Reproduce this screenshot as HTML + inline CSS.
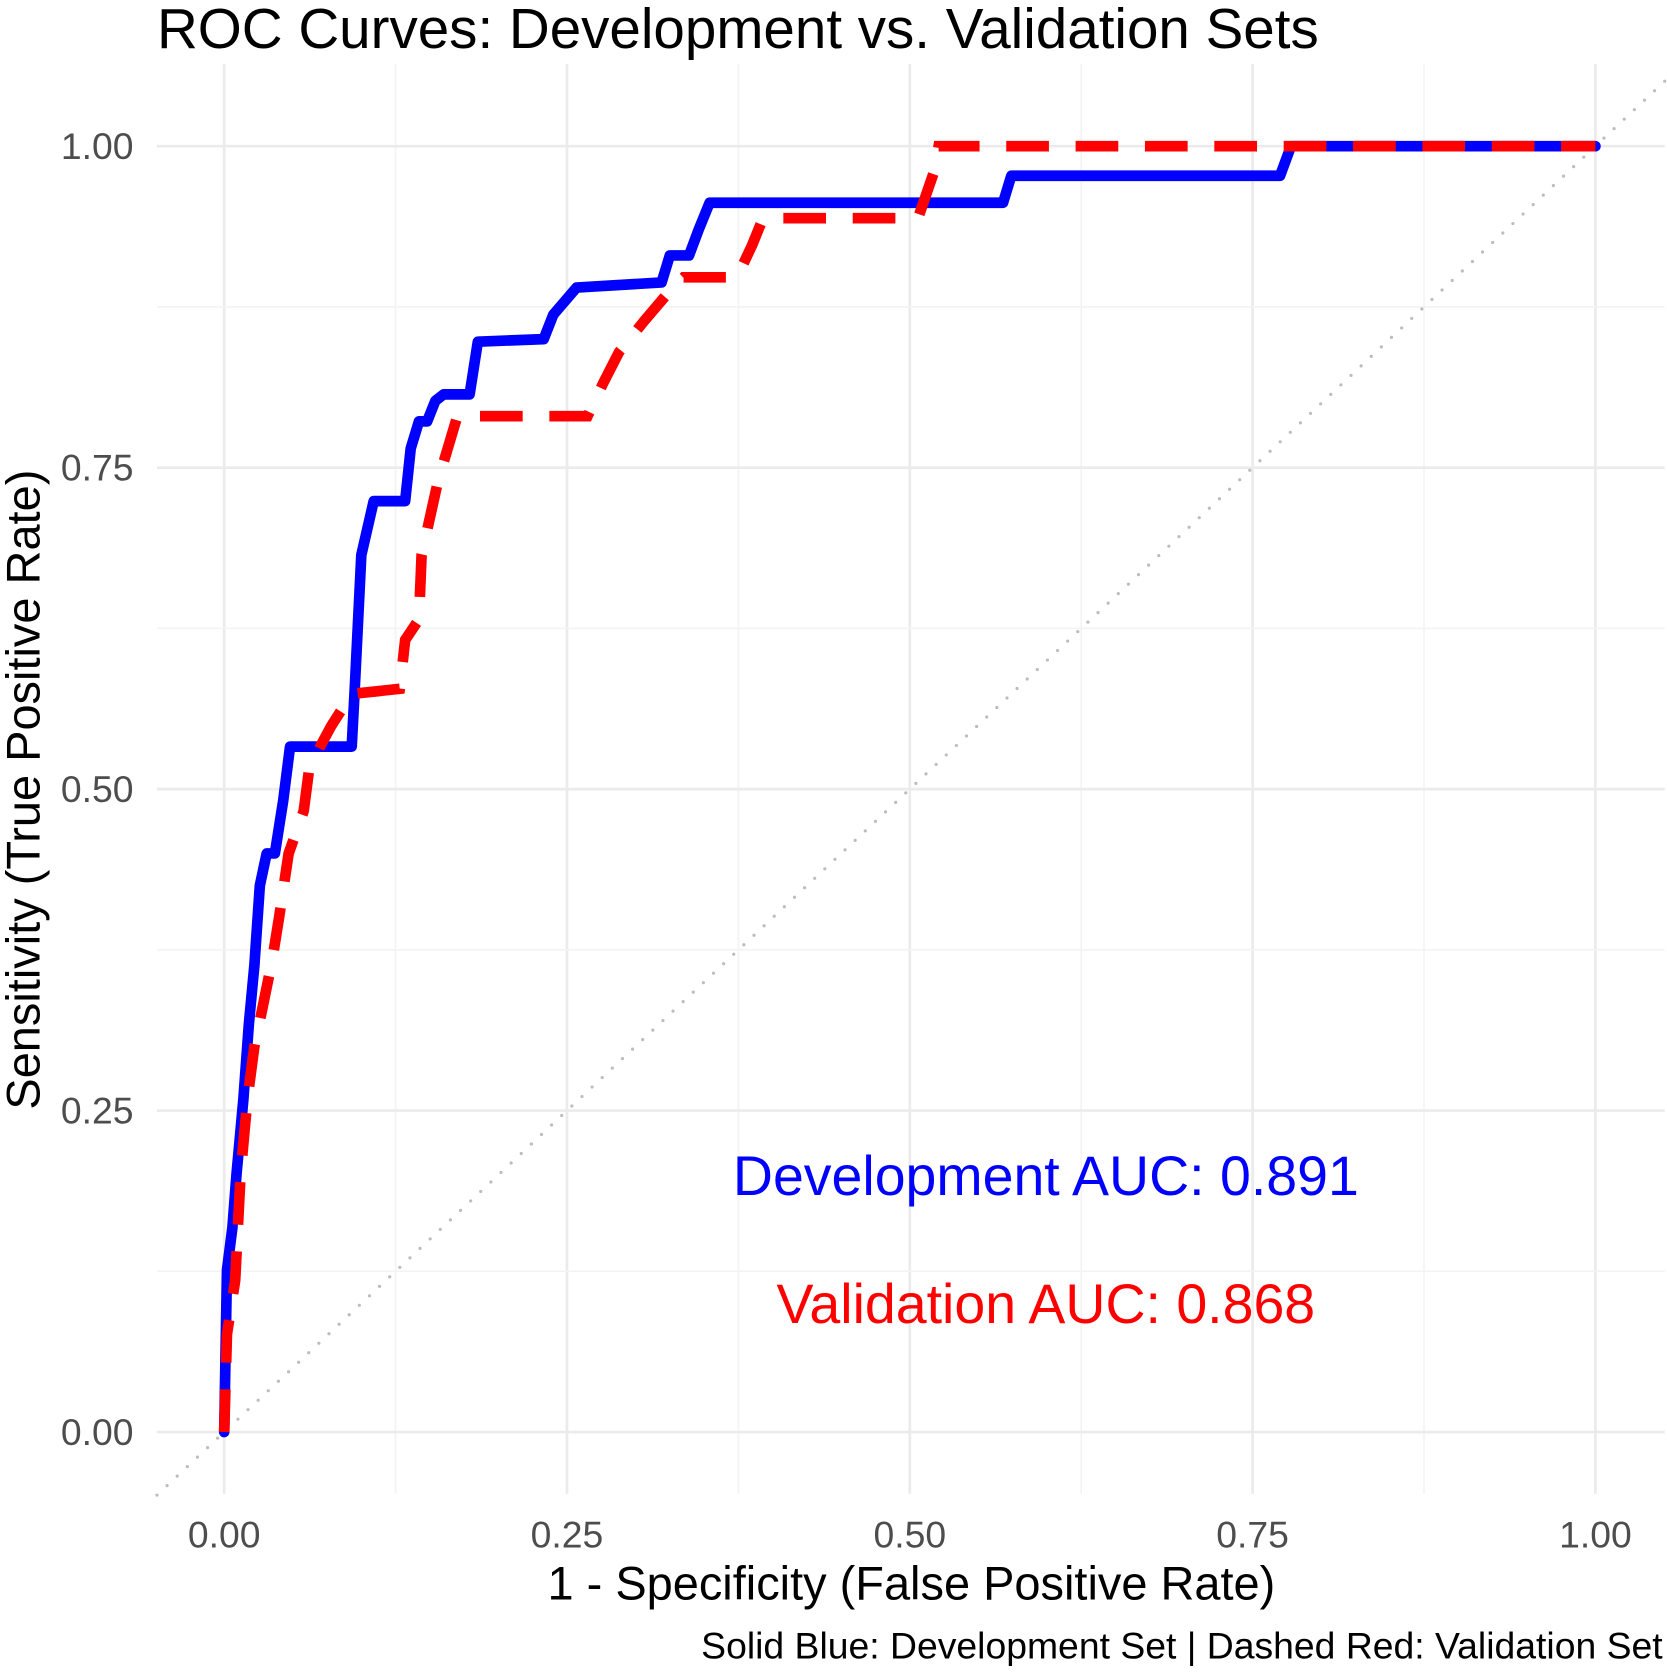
<!DOCTYPE html>
<html><head><meta charset="utf-8"><style>
body{margin:0;background:#fff}
svg text{font-family:"Liberation Sans",sans-serif}
</style></head><body>
<svg id="chart" width="1667" height="1670" viewBox="0 0 1562 1565">
<rect width="1562" height="1565" fill="#fff"/>
<g id="grid"></g>
<g id="curves"></g>
<g id="labels"></g>
<text x="147" y="45" font-size="53" fill="#000">ROC Curves: Development vs. Validation Sets</text>
<text x="854" y="1499" font-size="44" text-anchor="middle" fill="#000">1 - Specificity (False Positive Rate)</text>
<text transform="translate(37,740) rotate(-90)" font-size="44" text-anchor="middle" fill="#000">Sensitivity (True Positive Rate)</text>
<text x="1558" y="1554" font-size="35" text-anchor="end" fill="#000">Solid Blue: Development Set | Dashed Red: Validation Set</text>
<text x="980" y="1120" font-size="52" text-anchor="middle" fill="#0000ff">Development AUC: 0.891</text>
<text x="980" y="1240" font-size="52" text-anchor="middle" fill="#ff0000">Validation AUC: 0.868</text>
</svg>
<script>
const xTicks=[0,0.25,0.5,0.75,1];
const yTicks=[0,0.25,0.5,0.75,1];
const xTickLabels=["0.00","0.25","0.50","0.75","1.00"];
const yTickLabels=["0.00","0.25","0.50","0.75","1.00"];
const devFpr=[0,0.002,0.006,0.009,0.014,0.018,0.022,0.026,0.031,0.037,0.043,0.048,0.093,0.095,0.100,0.109,0.132,0.136,0.142,0.148,0.154,0.160,0.179,0.185,0.233,0.240,0.257,0.319,0.325,0.339,0.346,0.354,0.568,0.574,0.770,0.778,1];
const devTpr=[0,0.126,0.159,0.201,0.259,0.317,0.363,0.425,0.450,0.450,0.491,0.533,0.533,0.574,0.682,0.724,0.724,0.765,0.786,0.786,0.802,0.807,0.807,0.848,0.850,0.869,0.890,0.894,0.915,0.915,0.935,0.956,0.956,0.977,0.977,1,1];
const valFpr=[0,0.002,0.008,0.012,0.017,0.022,0.027,0.035,0.040,0.047,0.058,0.062,0.070,0.078,0.093,0.128,0.132,0.142,0.144,0.156,0.163,0.170,0.265,0.276,0.288,0.307,0.327,0.335,0.374,0.385,0.393,0.506,0.518,0.521,1];
const valTpr=[0,0.076,0.118,0.201,0.259,0.300,0.325,0.367,0.400,0.450,0.483,0.516,0.533,0.549,0.574,0.578,0.616,0.632,0.682,0.740,0.765,0.790,0.790,0.815,0.840,0.865,0.890,0.898,0.898,0.923,0.944,0.944,0.981,1,1];
const NS="http://www.w3.org/2000/svg";
const X0=210,X1=1495,Y0=1342,Y1=137,PL=147,PR=1560,PT=60,PB=1400;
const sx=v=>X0+v*(X1-X0), sy=v=>Y0-v*(Y0-Y1);
const grid=document.getElementById('grid'),curves=document.getElementById('curves'),labels=document.getElementById('labels');
function mk(tag,attrs,parent){const e=document.createElementNS(NS,tag);for(const k in attrs)e.setAttribute(k,attrs[k]);parent.appendChild(e);return e;}
for(let i=0;i<xTicks.length;i++){
  const v=xTicks[i];
  const l=mk('line',{x1:sx(v),x2:sx(v),y1:PT,y2:PB,stroke:'#ebebeb','stroke-width':2.5},grid);
  
  
  if(i<xTicks.length-1){const m=(v+xTicks[i+1])/2;
    const l2=mk('line',{x1:sx(m),x2:sx(m),y1:PT,y2:PB,stroke:'#f3f3f3','stroke-width':1.5},grid);
    
    }
  const t=mk('text',{x:sx(v),y:1450,'font-size':35,'text-anchor':'middle',fill:'#4d4d4d'},labels);
  t.textContent=xTickLabels[i];
  
  
}
for(let i=0;i<yTicks.length;i++){
  const v=yTicks[i];
  const l=mk('line',{x1:PL,x2:PR,y1:sy(v),y2:sy(v),stroke:'#ebebeb','stroke-width':2.5},grid);
  
  
  if(i<yTicks.length-1){const m=(v+yTicks[i+1])/2;
    const l2=mk('line',{x1:PL,x2:PR,y1:sy(m),y2:sy(m),stroke:'#f3f3f3','stroke-width':1.5},grid);
    
    }
  const t=mk('text',{x:125,y:sy(v)+12,'font-size':35,'text-anchor':'end',fill:'#4d4d4d'},labels);
  t.textContent=yTickLabels[i];
  
  
}
const xa=(PL-X0)/(X1-X0), xb=(PR-X0)/(X1-X0);
const diag=mk('line',{x1:sx(xa),y1:sy(xa),x2:sx(xb),y2:sy(xb),stroke:'#bdbdbd','stroke-width':3,'stroke-dasharray':'0 13','stroke-linecap':'round'},grid);


const pts=(xs,ys)=>xs.map((x,i)=>sx(x).toFixed(1)+','+sy(ys[i]).toFixed(1)).join(' ');
const dev=mk('polyline',{points:pts(devFpr,devTpr),fill:'none',stroke:'#0000ff','stroke-width':10,'stroke-linejoin':'round','stroke-linecap':'round'},curves);


const val=mk('polyline',{points:pts(valFpr,valTpr),fill:'none',stroke:'#ff0000','stroke-width':10,'stroke-dasharray':'40 25'},curves);


</script>
</body></html>
